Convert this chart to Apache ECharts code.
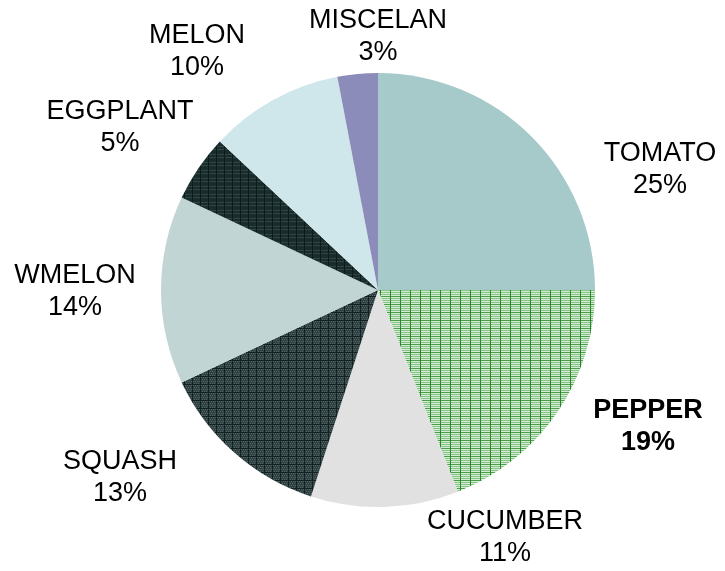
<!DOCTYPE html>
<html>
<head>
<meta charset="utf-8">
<script src="https://cdn.jsdelivr.net/npm/echarts@6/dist/echarts.min.js"></script>
<style>html,body{margin:0;padding:0;background:#fff}#c{width:725px;height:571px}</style>
</head>
<body>
<div id="c"></div>
<script>
const categories = ['TOMATO','PEPPER','CUCUMBER','SQUASH','WMELON','EGGPLANT','MELON','MISCELAN'];
const values = [25, 19, 11, 13, 14, 5, 10, 3];

function tile(w, h, draw){
  const c = document.createElement('canvas');
  c.width = w; c.height = h;
  const g = c.getContext('2d');
  draw(g, w, h);
  return c;
}
const pepperTile = tile(10, 8, (g, w, h) => {
  g.fillStyle = '#d4ecd4'; g.fillRect(0,0,w,h);
  for (let y = 0; y < h; y += 2){ g.fillStyle = '#86c386'; g.fillRect(0,y,w,1); }
  g.fillStyle = '#4a9e4a'; g.fillRect(0,0,w,1);
  g.fillStyle = '#2a852a'; g.fillRect(0,0,1,h);
});
const squashTile = tile(8, 8, (g, w, h) => {
  g.fillStyle = '#2f4143'; g.fillRect(0,0,w,h);
  for (let y = 1; y < h; y += 2) for (let x = (y%4===1?1:0); x < w; x += 2){ g.fillStyle = '#506464'; g.fillRect(x,y,1,1); }
  g.fillStyle = '#132121'; g.fillRect(0,0,w,1); g.fillRect(0,0,1,h);
});
const eggTile = tile(8, 8, (g, w, h) => {
  g.fillStyle = '#1b2c2c'; g.fillRect(0,0,w,h);
  g.fillStyle = '#2f4646'; g.fillRect(0,2,w,1); g.fillRect(0,5,w,1);
  g.fillStyle = '#0f1a1a'; g.fillRect(0,0,1,h);
});

const sliceColors = [
  '#a6c9c9',
  {image: pepperTile, repeat: 'repeat'},
  '#e1e1e1',
  {image: squashTile, repeat: 'repeat'},
  '#c2d5d5',
  {image: eggTile, repeat: 'repeat'},
  '#cfe7ea',
  '#8c8cba'
];
const labelPos = [
  [660, 170], [648, 427], [505, 538], [120, 478],
  [75, 292], [120, 128], [197, 52], [378, 37]
];

const chart = echarts.init(document.getElementById('c'));
chart.setOption({
  animation: false,
  series: [{
    type: 'pie',
    center: [378, 290],
    radius: 217,
    startAngle: 90,
    clockwise: true,
    avoidLabelOverlap: false,
    itemStyle: {borderWidth: 0},
    emphasis: {disabled: true},
    labelLine: {show: false},
    label: {
      show: true,
      position: 'outside',
      formatter: p => p.name + '\n' + p.value + '%',
      fontFamily: 'Liberation Sans, Arial, sans-serif',
      fontSize: 27,
      lineHeight: 32,
      color: '#000',
      align: 'center'
    },
    labelLayout: function(params){
      const p = labelPos[params.dataIndex];
      return {x: p[0], y: p[1], align: 'center', verticalAlign: 'middle', hideOverlap: false};
    },
    data: categories.map((n, i) => ({
      name: n,
      value: values[i],
      itemStyle: {color: sliceColors[i]},
      label: i === 1 ? {fontWeight: 'bold'} : {}
    }))
  }]
});
</script>
</body>
</html>
